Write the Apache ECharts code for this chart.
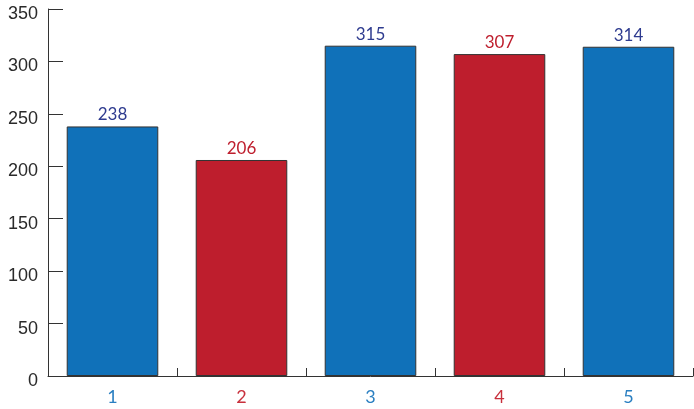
<!DOCTYPE html>
<html>
<head>
<meta charset="utf-8">
<script src="https://cdn.jsdelivr.net/npm/echarts@6/dist/echarts.min.js"></script>
<style>
  html, body { margin: 0; padding: 0; background: #fff; }
  #chart { width: 694px; height: 409px; }
</style>
</head>
<body>
<div id="chart"></div>
<script>
// Category labels and bar values
const categories = ['1', '2', '3', '4', '5'];
const values = [238, 206, 315, 307, 314];
const yTicks = [0, 50, 100, 150, 200, 250, 300, 350];

const BLUE = '#1071b9';
const RED = '#be1e2d';
const barColors = [BLUE, RED, BLUE, RED, BLUE];
const valueLabelColors = ['#2e3b8f', RED, '#2e3b8f', RED, '#2e3b8f'];
const axisLabelColors = ['#2a7fc1', '#c8303c', '#2a7fc1', '#c8303c', '#2a7fc1'];

const chart = echarts.init(document.getElementById('chart'));
chart.setOption({
  animation: false,
  grid: { left: 48, right: 1, top: 9, bottom: 33, containLabel: false },
  xAxis: {
    type: 'category',
    data: categories,
    axisLine: { lineStyle: { color: '#333', width: 1 } },
    axisTick: { show: true, inside: true, length: 8, lineStyle: { color: '#333' } },
    axisLabel: {
      margin: 12,
      fontFamily: 'Lato',
      fontSize: 18,
      color: (v, i) => axisLabelColors[i]
    },
    splitLine: { show: false }
  },
  yAxis: {
    type: 'value',
    min: yTicks[0],
    max: yTicks[yTicks.length - 1],
    interval: 50,
    axisLine: { show: true, lineStyle: { color: '#333', width: 1 } },
    axisTick: { show: true, inside: true, length: 15, lineStyle: { color: '#333' } },
    axisLabel: {
      margin: 10,
      fontFamily: 'Liberation Sans',
      fontSize: 18,
      verticalAlign: 'top',
      lineHeight: 10,
      color: '#2a2a2a'
    },
    splitLine: { show: false }
  },
  series: [{
    type: 'bar',
    barWidth: '71%',
    data: values.map((v, i) => ({
      value: v,
      itemStyle: { color: barColors[i], borderColor: '#333', borderWidth: 1 },
      label: { color: valueLabelColors[i] }
    })),
    label: {
      show: true,
      position: 'top',
      distance: 3,
      fontFamily: 'Lato',
      fontSize: 17
    }
  }]
});
</script>
</body>
</html>
